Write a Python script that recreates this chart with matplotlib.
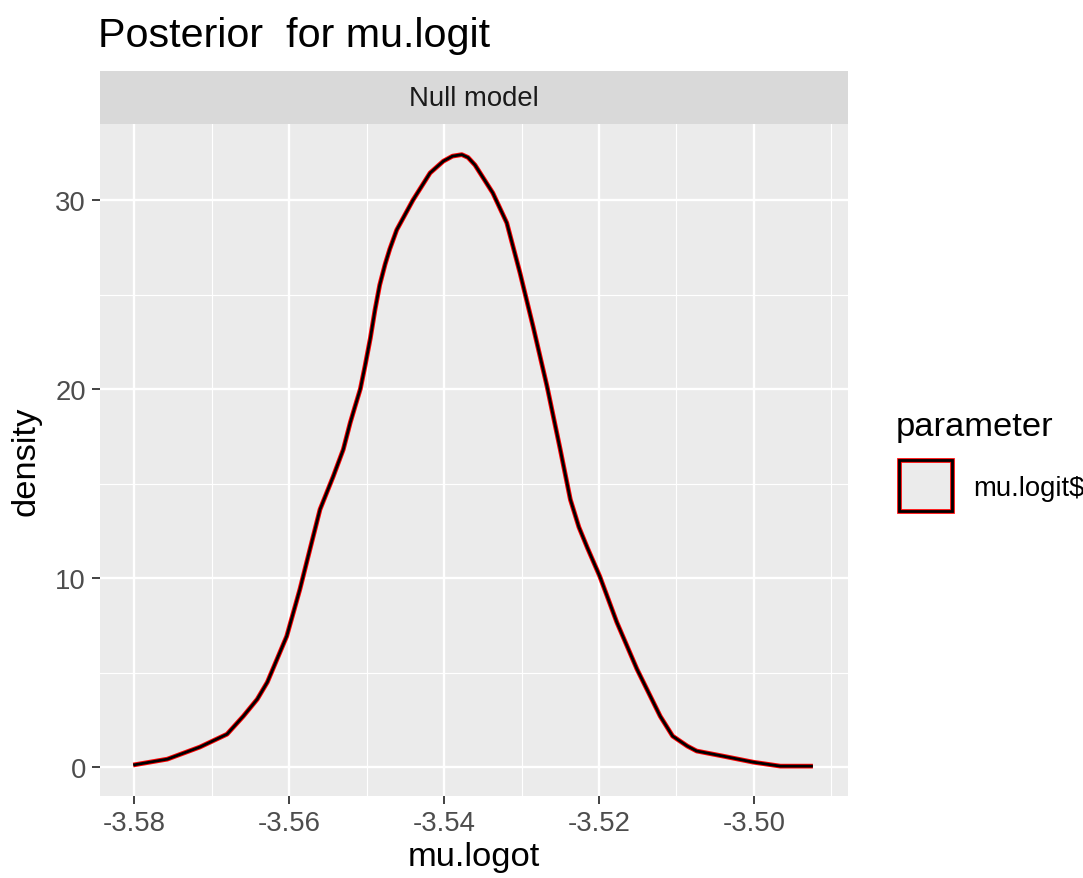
import matplotlib
matplotlib.use("Agg")
import matplotlib.pyplot as plt
from matplotlib.patches import Rectangle
from matplotlib.ticker import MultipleLocator

plt.rcParams['font.family'] = ['Liberation Sans', 'DejaVu Sans']

# density curve
mu_logit = [-3.5801, -3.5757, -3.5715, -3.5680, -3.5659, -3.5641, -3.5628, -3.5603,
            -3.5586, -3.5573, -3.5560, -3.5543, -3.5530, -3.5521, -3.5515, -3.5508,
            -3.5502, -3.5495, -3.5489, -3.5483, -3.5476, -3.5470, -3.5461, -3.5440,
            -3.5418, -3.5401, -3.5389, -3.5377, -3.5369, -3.5360, -3.5337, -3.5319,
            -3.5302, -3.5285, -3.5267, -3.5250, -3.5237, -3.5226, -3.5215, -3.5199,
            -3.5177, -3.5151, -3.5121, -3.5105, -3.5086, -3.5074, -3.5040, -3.5001,
            -3.4966, -3.4924]
density = [0.11, 0.42, 1.06, 1.74, 2.69, 3.59, 4.49, 6.92,
           9.40, 11.52, 13.63, 15.37, 16.80, 18.22, 19.05, 20.00,
           21.20, 22.70, 24.20, 25.50, 26.60, 27.40, 28.42, 30.00,
           31.43, 32.05, 32.32, 32.40, 32.25, 31.85, 30.37, 28.79,
           26.15, 23.30, 20.13, 16.80, 14.16, 12.70, 11.60, 10.09,
           7.66, 5.18, 2.69, 1.64, 1.11, 0.85, 0.58, 0.26,
           0.05, 0.05]
x_ticks = [-3.58, -3.56, -3.54, -3.52, -3.50]
x_tick_labels = ['-3.58', '-3.56', '-3.54', '-3.52', '-3.50']
y_ticks = [0, 10, 20, 30]

W, H = 1083, 879
fig = plt.figure(figsize=(W / 100, H / 100), dpi=100)

# panel in pixel coords
L, R, T, B = 100, 848, 125, 797
ax = fig.add_axes([L / W, 1 - B / H, (R - L) / W, (B - T) / H])
ax.set_facecolor('#EBEBEB')
for s in ax.spines.values():
    s.set_visible(False)

ax.plot(mu_logit, density, color='red', lw=3.4, solid_capstyle='butt',
        solid_joinstyle='round', zorder=3)
ax.plot(mu_logit, density, color='black', lw=2.0, solid_capstyle='butt',
        solid_joinstyle='round', zorder=4)

ax.set_xlim(-3.58439, -3.48787)
ax.set_ylim(-1.53, 34.02)
ax.set_xticks(x_ticks)
ax.set_xticklabels(x_tick_labels)
ax.set_yticks(y_ticks)
ax.xaxis.set_minor_locator(MultipleLocator(0.01))
ax.yaxis.set_minor_locator(MultipleLocator(5))
ax.grid(which='major', color='white', lw=1.7, zorder=0)
ax.grid(which='minor', color='white', lw=0.85, zorder=0)
ax.set_axisbelow(True)
ax.tick_params(which='major', length=6, width=1.3, color='#333333',
               labelsize=19.8, labelcolor='#4D4D4D', pad=4)
ax.tick_params(which='minor', length=0)

ax.set_xlabel('mu.logot', fontsize=24.8, color='black', labelpad=4)
ax.set_ylabel('density', fontsize=24.8, color='black', labelpad=10)

# facet strip
st = fig.add_axes([L / W, 1 - T / H, (R - L) / W, 53 / H])
st.set_facecolor('#D9D9D9')
st.set_xticks([])
st.set_yticks([])
for s in st.spines.values():
    s.set_visible(False)
st.text(0.5, 0.5, 'Null model', ha='center', va='center', fontsize=19.8,
        color='#1A1A1A', transform=st.transAxes)

# title
fig.text(98 / W, 1 - 36 / H, 'Posterior  for mu.logit', fontsize=29.7,
         ha='left', va='center', color='black')

# legend
fig.text(896 / W, 1 - 428 / H, 'parameter', fontsize=24.8, ha='left', va='center')
kx, ky, kw, kh = 899, 461, 53, 51
fig.patches.append(Rectangle((kx / W, 1 - (ky + kh) / H), kw / W, kh / H,
                             transform=fig.transFigure, facecolor='#EBEBEB',
                             edgecolor='red', lw=3.4, zorder=2))
fig.patches.append(Rectangle((kx / W, 1 - (ky + kh) / H), kw / W, kh / H,
                             transform=fig.transFigure, facecolor='none',
                             edgecolor='black', lw=2.0, zorder=3))
fig.text(973 / W, 1 - 489 / H, 'mu.logit$', fontsize=19.8, ha='left', va='center')

fig.savefig('out.png', dpi=100, facecolor='white')
